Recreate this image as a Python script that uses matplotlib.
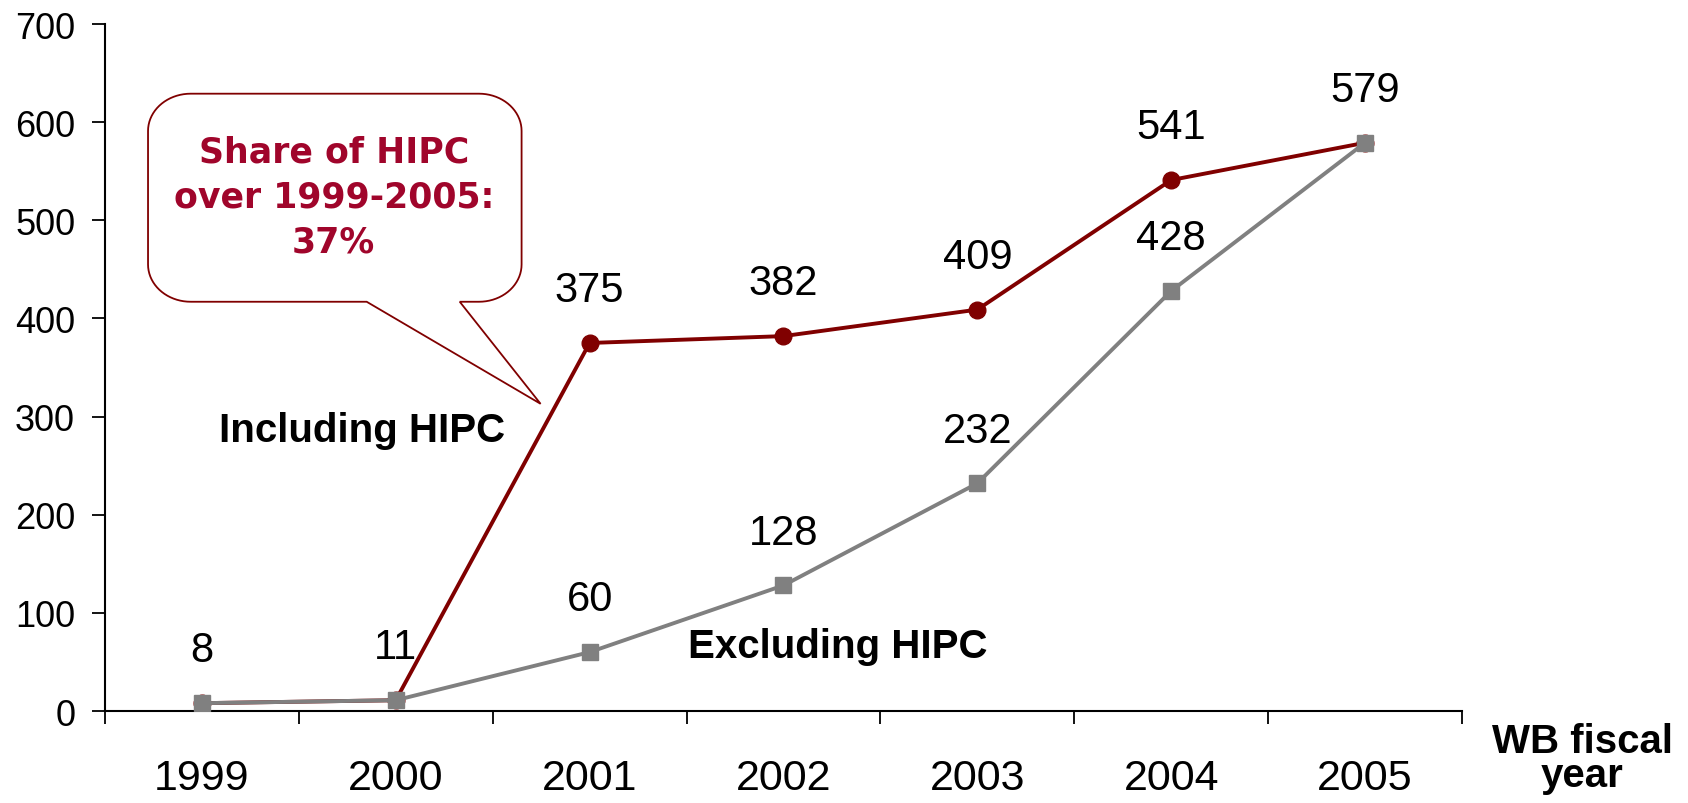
import numpy as np
import matplotlib
matplotlib.use("Agg")
import matplotlib.pyplot as plt
from matplotlib.path import Path
from matplotlib.patches import PathPatch

# data
years = ["1999", "2000", "2001", "2002", "2003", "2004", "2005"]
incl_hipc = [8, 11, 375, 382, 409, 541, 579]
excl_hipc = [8, 11, 60, 128, 232, 428, 579]

RED = "#800000"
GREY = "#808080"
TXT_RED = "#A0052B"

plt.rcParams["font.family"] = ["Liberation Sans", "DejaVu Sans"]

fig = plt.figure(figsize=(16.88, 8.04), dpi=100)
ax = fig.add_axes([0.0622, 0.1144, 0.8039, 0.8545])

x = np.arange(len(years))
ax.plot(x, incl_hipc, color=RED, lw=2.8, marker="o", ms=12, zorder=3)
ax.plot(x, excl_hipc, color=GREY, lw=2.8, marker="s", ms=12, zorder=4)

# value labels (shared values only once)
for i, v in enumerate(excl_hipc):
    ax.annotate(str(v), (i, v), xytext=(0, 38), textcoords="offset points",
                ha="center", va="center", fontsize=30)
for i, v in enumerate(incl_hipc):
    if v != excl_hipc[i]:
        ax.annotate(str(v), (i, v), xytext=(0, 38), textcoords="offset points",
                    ha="center", va="center", fontsize=30)

ax.set_xlim(-0.5, len(years) - 0.5)
ax.set_ylim(0, 700)
ax.set_yticks(range(0, 701, 100))
ax.set_xticks(x)
ax.set_xticklabels(years)
ax.set_xticks(np.arange(-0.5, len(years)), minor=True)
ax.tick_params(axis="x", which="major", length=0, pad=34, labelsize=31)
ax.tick_params(axis="x", which="minor", length=9.5, width=1.3, direction="out")
ax.tick_params(axis="y", length=9.5, width=1.3, pad=12, labelsize=26)

for s in ["top", "right"]:
    ax.spines[s].set_visible(False)
for s in ["left", "bottom"]:
    ax.spines[s].set_linewidth(1.5)

ax.text(0.825, 286, "Including HIPC", fontsize=29, fontweight="bold",
        ha="center", va="center")
ax.text(3.28, 66, "Excluding HIPC", fontsize=29, fontweight="bold",
        ha="center", va="center")
ax.text(7.12, -48, "WB fiscal\nyear", fontsize=29, fontweight="bold",
        ha="center", va="center", linespacing=0.87, clip_on=False)

# callout bubble
x0, x1, y0, y1 = -0.278, 1.649, 417, 629
rx, ry = 0.22, 38
base_a, base_b, tip = 0.85, 1.33, (1.747, 313)


def arc(cx, cy, a0, a1):
    t = np.linspace(np.radians(a0), np.radians(a1), 20)
    return list(zip(cx + rx * np.cos(t), cy + ry * np.sin(t)))


pts = [(x0 + rx, y0), (base_a, y0), tip, (base_b, y0), (x1 - rx, y0)]
pts += arc(x1 - rx, y0 + ry, -90, 0)
pts += arc(x1 - rx, y1 - ry, 0, 90)
pts += arc(x0 + rx, y1 - ry, 90, 180)
pts += arc(x0 + rx, y0 + ry, 180, 270)
pts.append((x0 + rx, y0))
bubble = PathPatch(Path(pts), facecolor="white", edgecolor=RED, lw=1.3, zorder=2)
ax.add_patch(bubble)
ax.text(0.68, 524, "Share of HIPC\nover 1999-2005:\n37%", color=TXT_RED,
        fontsize=25, fontweight="bold", family="DejaVu Sans",
        ha="center", va="center", linespacing=1.4, zorder=5)

fig.savefig("out.png", dpi=100)
